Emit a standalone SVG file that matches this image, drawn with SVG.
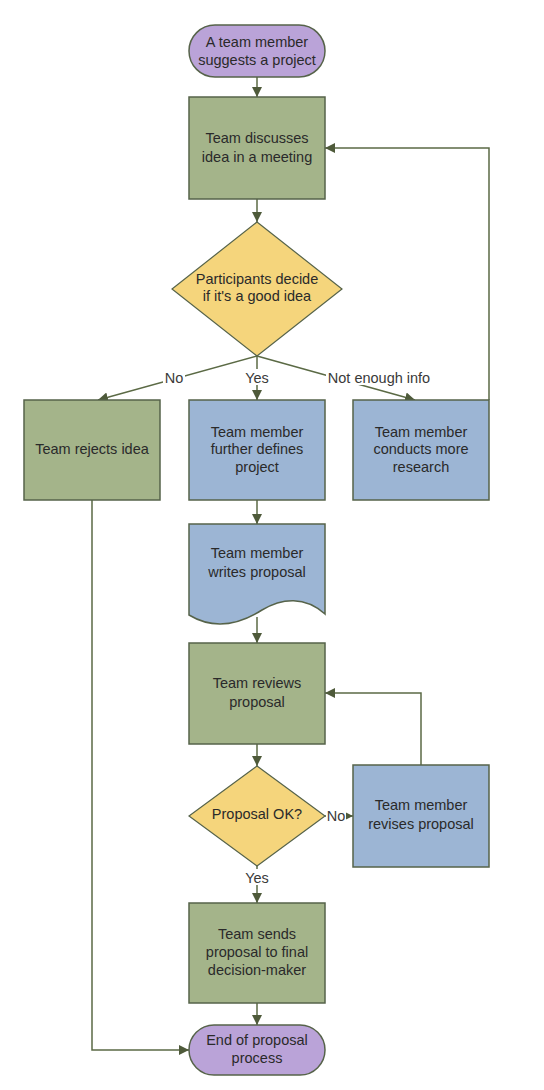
<svg xmlns="http://www.w3.org/2000/svg" width="544" height="1090" viewBox="0 0 544 1090">
<defs>
<marker id="arr" markerUnits="userSpaceOnUse" markerWidth="10" markerHeight="10" viewBox="0 0 10 10" refX="10" refY="5" orient="auto">
<path d="M0,0 L10,5 L0,10 Z" fill="#4e5a3a"/>
</marker>
<style>
.t{font-family:"Liberation Sans",Arial,sans-serif;font-size:14.5px;fill:#2a2a2a;text-anchor:middle}
.l{font-family:"Liberation Sans",Arial,sans-serif;font-size:14.5px;fill:#3a3a3a;text-anchor:middle}
.g{fill:#a4b48a;stroke:#56634a;stroke-width:1.5}
.b{fill:#9cb5d4;stroke:#56634a;stroke-width:1.5}
.y{fill:#f5d57c;stroke:#56634a;stroke-width:1.2}
.p{fill:#baa3d8;stroke:#56634a;stroke-width:1.5}
.c{fill:none;stroke:#5b6a45;stroke-width:1.5;marker-end:url(#arr)}
.lb{fill:#ffffff}
</style>
</defs>
<rect width="544" height="1090" fill="#ffffff"/>
<g id="connectors">
<path class="c" d="M257,77 V97"/>
<path class="c" d="M257,199 V222"/>
<path class="c" d="M257,356 L98,400"/>
<path class="c" d="M257,356 V400"/>
<path class="c" d="M257,356 L415,400"/>
<path class="c" d="M489,400 V148 H325"/>
<path class="c" d="M257,500 V524"/>
<path class="c" d="M257,617 V643"/>
<path class="c" d="M257,744 V766"/>
<path class="c" d="M325,816 H353"/>
<path class="c" d="M421,765 V693 H325"/>
<path class="c" d="M257,866 V903"/>
<path class="c" d="M257,1003 V1025"/>
<path class="c" d="M92,500 V1050 H189"/>
<rect class="lb" x="163" y="369" width="22" height="16"/>
<text class="l" x="174" y="383">No</text>
<rect class="lb" x="242" y="369" width="30" height="16"/>
<text class="l" x="257" y="383">Yes</text>
<rect class="lb" x="326" y="369" width="106" height="16"/>
<text class="l" x="379" y="383">Not enough info</text>
<rect class="lb" x="326" y="808" width="20" height="16"/>
<text class="l" x="336" y="821">No</text>
<rect class="lb" x="242" y="869" width="30" height="16"/>
<text class="l" x="257" y="883">Yes</text>
</g>
<g id="start">
<rect class="p" x="189" y="25" width="136" height="52" rx="26" ry="26"/>
<text class="t" x="257" y="47">A team member</text>
<text class="t" x="257" y="65">suggests a project</text>
</g>
<g id="discuss">
<rect class="g" x="189" y="97" width="136" height="102"/>
<text class="t" x="257" y="143">Team discusses</text>
<text class="t" x="257" y="162">idea in a meeting</text>
</g>
<g id="decide">
<polygon class="y" points="257,222 342,289 257,356 172,289"/>
<text class="t" x="257" y="284">Participants decide</text>
<text class="t" x="257" y="301">if it's a good idea</text>
</g>
<g id="reject">
<rect class="g" x="24" y="400" width="136" height="100"/>
<text class="t" x="92" y="454">Team rejects idea</text>
</g>
<g id="define">
<rect class="b" x="189" y="400" width="136" height="100"/>
<text class="t" x="257" y="437">Team member</text>
<text class="t" x="257" y="454">further defines</text>
<text class="t" x="257" y="472">project</text>
</g>
<g id="research">
<rect class="b" x="353" y="400" width="136" height="100"/>
<text class="t" x="421" y="437">Team member</text>
<text class="t" x="421" y="454">conducts more</text>
<text class="t" x="421" y="472">research</text>
</g>
<g id="write">
<path class="b" d="M189,524 H325 V614 C305,596 282,598 262,610 C240,624 214,630 189,615 Z"/>
<text class="t" x="257" y="558">Team member</text>
<text class="t" x="257" y="577">writes proposal</text>
</g>
<g id="review">
<rect class="g" x="189" y="643" width="136" height="101"/>
<text class="t" x="257" y="688">Team reviews</text>
<text class="t" x="257" y="707">proposal</text>
</g>
<g id="ok">
<polygon class="y" points="257,766 325,816 257,866 189,816"/>
<text class="t" x="257" y="819">Proposal OK?</text>
</g>
<g id="revise">
<rect class="b" x="353" y="765" width="136" height="102"/>
<text class="t" x="421" y="810">Team member</text>
<text class="t" x="421" y="829">revises proposal</text>
</g>
<g id="send">
<rect class="g" x="189" y="903" width="136" height="100"/>
<text class="t" x="257" y="939">Team sends</text>
<text class="t" x="257" y="957">proposal to final</text>
<text class="t" x="257" y="975">decision-maker</text>
</g>
<g id="end">
<rect class="p" x="189" y="1025" width="136" height="50" rx="25" ry="25"/>
<text class="t" x="257" y="1045">End of proposal</text>
<text class="t" x="257" y="1063">process</text>
</g>
</svg>
